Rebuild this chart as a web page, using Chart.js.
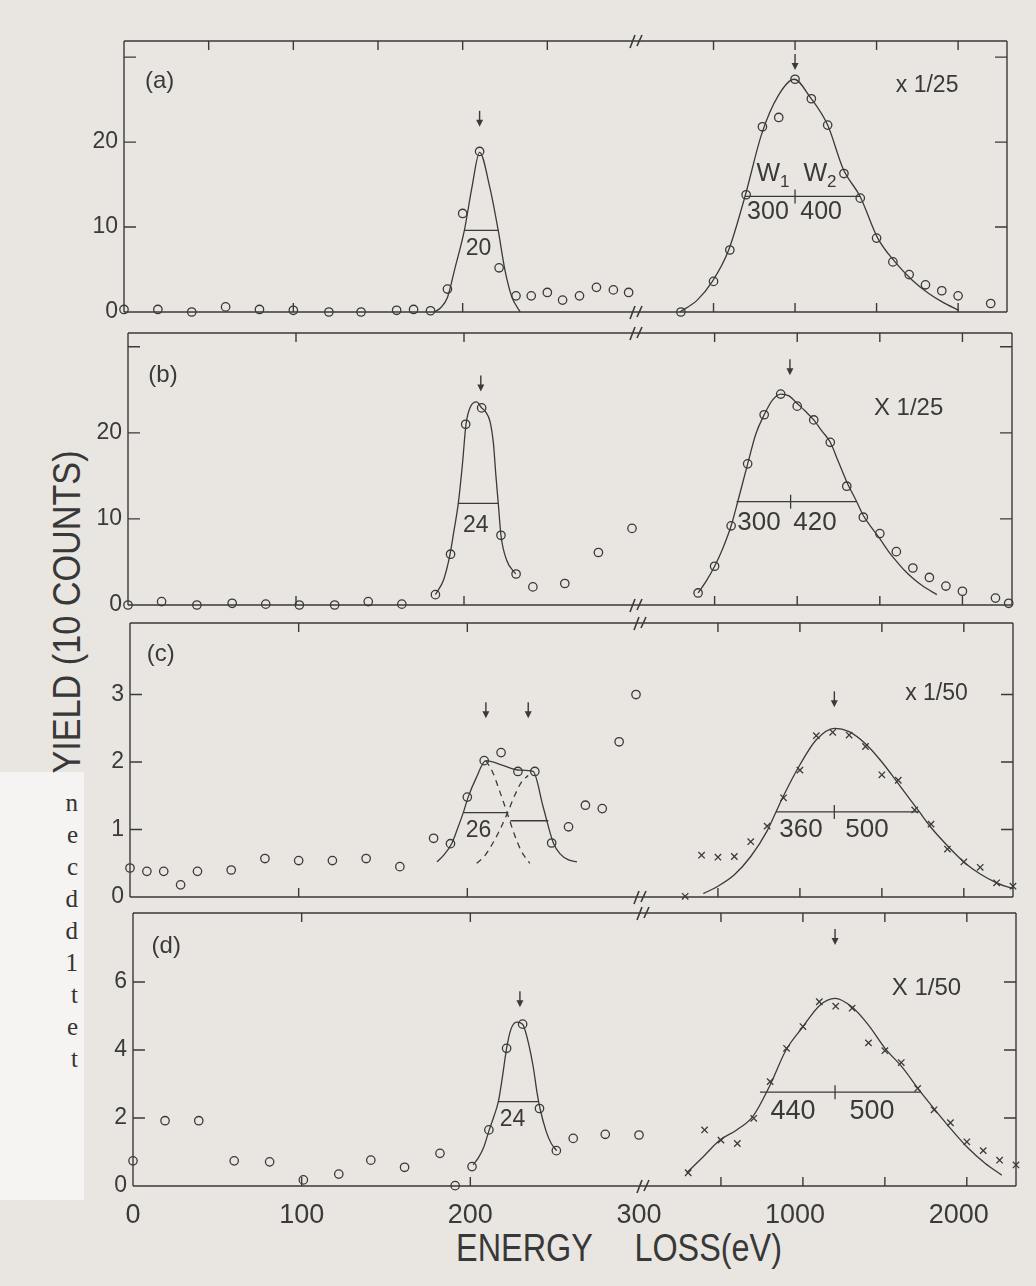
<!DOCTYPE html>
<html lang="en">
<head>
<meta charset="utf-8">
<title>Energy loss spectra (a)-(d)</title>
<script src="https://cdn.jsdelivr.net/npm/chart.js@4.4.1/dist/chart.umd.min.js"></script>
<style>
  html, body { margin:0; padding:0; }
  body { width:1036px; height:1286px; position:relative; overflow:hidden; background:#e9e6e2;
         font-family:"Liberation Sans", Arial, sans-serif; color:#383838; }
  canvas { position:absolute; }
  .ytitle { position:absolute; left:67px; top:612px; font-size:38px; line-height:1; white-space:nowrap;
            transform: translate(-50%,-50%) rotate(-90deg) scaleX(0.9); }
  .xtitle { position:absolute; left:619px; top:1228px; font-size:39px; line-height:39px; white-space:pre;
            transform: translateX(-50%) scaleX(0.83); word-spacing:40px; }
  .scrap { position:absolute; left:0; top:772px; width:84px; height:428px; background:#f5f4f2; }
  .scrap div { position:absolute; right:6px; top:15px; font-family:"Liberation Serif", serif; font-size:25px;
               line-height:32px; text-align:right; color:#333; }
</style>
</head>
<body>
<div class="scrap"><div>n<br>e<br>c<br>d<br>d<br>1<br>t<br>e<br>t</div></div>
<div class="ytitle">YIELD (10 COUNTS)</div>
<div class="xtitle">ENERGY LOSS(eV)</div>
<script>
// ---------------- data (energy loss in eV, yield) ----------------
// panel (a)
const aLeftE = [0,20,40,60,80,100,121,140,161,171,181,191,200,210,221.5,231.5,240.5,250,259,269,279,289,298];
const aLeftY = [0.3,0.3,0.0,0.6,0.3,0.2,0.0,0.0,0.2,0.3,0.15,2.7,11.6,18.9,5.2,1.9,1.9,2.3,1.4,1.9,2.9,2.6,2.3];
const aLeftFitE = [183,187,191,195.5,201,205.5,210,216,221,225,229,234];
const aLeftFitY = [0,0.5,1.7,5.2,9.6,14.7,18.8,14.7,9.6,4.9,1.8,0];
const aRightE = [300,500,600,700,800,900,1000,1100,1200,1300,1400,1500,1600,1700,1800,1900,2000,2200];
const aRightY = [0,3.6,7.3,13.8,21.8,22.9,27.4,25.1,22.0,16.3,13.4,8.7,5.9,4.4,3.2,2.5,1.9,1.0];
const aRightFitE = [294,400,493,593,693,796,898,995,1092,1200,1296,1399,1507,1613,1716,1818,1910,2005];
const aRightFitY = [0,1.4,3.6,7.3,13.6,21.0,25.5,27.4,25.3,22.0,16.8,13.6,8.7,5.9,3.8,2.2,1.1,0.2];
const aHalfLeft = [201,221,9.6];
const aHalfRight = [695,1400,13.6,1000];
const aWidthLabels = ['20','300','400'];

// panel (b)
const bLeftE = [0,20,41,62,82,102,123,143,163,183,192,201,210.5,222,231,241,260,280,300];
const bLeftY = [0,0.4,0,0.2,0.1,0,0,0.4,0.1,1.2,5.9,21.0,22.9,8.1,3.6,2.1,2.5,6.1,8.9];
const bLeftFitE = [183,188,191.7,194,196.6,199,201.2,204,207.5,210.5,213,215.5,217.5,219,220.4,222,225.4,230.8];
const bLeftFitY = [1.2,3.0,5.9,8.6,11.8,16.2,21.0,23.1,23.6,22.9,22.4,21.3,18.8,15.0,11.8,8.1,5.2,3.6];
const bRightE = [400,500,600,700,800,900,1000,1100,1200,1300,1400,1500,1600,1700,1800,1900,2000,2200,2280];
const bRightY = [1.4,4.5,9.2,16.4,22.1,24.5,23.1,21.5,18.9,13.8,10.2,8.3,6.2,4.3,3.2,2.2,1.6,0.8,0.2];
const bRightFitE = [400,450,500,550,600,640,700,750,800,850,900,950,1000,1050,1100,1150,1200,1250,1300,1360,1400,1450,1500,1550,1600,1650,1700,1760,1845];
const bRightFitY = [1.4,2.8,4.5,6.6,9.2,12.0,16.4,19.9,22.1,23.8,24.5,24.3,23.4,22.5,21.5,20.2,18.9,16.6,14.3,12.0,10.4,9.0,7.7,6.3,5.1,4.0,3.1,2.2,1.2];
const bHalfLeft = [196.6,220.4,11.8];
const bHalfRight = [633,1358,12.0,960];
const bWidthLabels = ['24','300','420'];

// panel (c)
const cLeftE = [0,10,20,30,40,60,80,100,120,140,160,180,190,200,210,220,230,240,250,260,270,280,290,300];
const cLeftY = [0.43,0.38,0.38,0.18,0.38,0.4,0.57,0.54,0.54,0.57,0.45,0.87,0.79,1.48,2.02,2.14,1.86,1.86,0.8,1.04,1.36,1.31,2.3,3.0];
const cLeftFitE = [182,186,190.7,194,197.6,200.5,205,211,221,231,239,245,251,255,260,265];
const cLeftFitY = [0.52,0.62,0.79,1.0,1.25,1.48,1.75,2.02,1.95,1.88,1.86,1.33,0.8,0.64,0.55,0.52];
const cPeak1E = [211,215,219,223.7,228,232,237];
const cPeak1Y = [2.02,1.85,1.58,1.24,0.92,0.68,0.5];
const cPeak2E = [205.5,210,214,219,223.7,228,232,236.1];
const cPeak2Y = [0.5,0.6,0.75,0.98,1.24,1.5,1.7,1.8];
const cRightE = [300,400,500,600,700,800,900,1000,1100,1200,1300,1400,1500,1600,1700,1800,1900,2000,2100,2200,2300];
const cRightY = [0.01,0.62,0.59,0.6,0.82,1.05,1.47,1.88,2.39,2.44,2.4,2.23,1.81,1.73,1.29,1.08,0.71,0.52,0.44,0.21,0.16];
const cRightFitE = [411,500,600,700,800,854,900,1000,1100,1210,1300,1400,1500,1600,1729,1800,1900,2000,2100,2200,2300];
const cRightFitY = [0.05,0.16,0.33,0.6,0.98,1.26,1.5,1.96,2.33,2.5,2.45,2.27,2.0,1.68,1.26,1.03,0.76,0.52,0.34,0.21,0.12];
const cHalfLeft1 = [198,224,1.25];
const cHalfLeft2 = [225.5,248,1.13];
const cHalfRight = [854,1729,1.26,1210];
const cWidthLabels = ['26','360','500'];

// panel (d)
const dLeftE = [0,19,39,60,81,101,122,141,161,182,191,201,211,221.5,231,241,251,261,280,300];
const dLeftY = [0.74,1.92,1.92,0.74,0.71,0.18,0.35,0.76,0.55,0.96,0.01,0.57,1.65,4.05,4.76,2.28,1.04,1.4,1.52,1.5];
const dLeftFitE = [201.7,205,208,211.2,214,216.6,219,221.5,224,227.4,231,234,237.3,239.7,241.3,245,248,251.2];
const dLeftFitY = [0.62,0.85,1.15,1.65,2.05,2.48,3.2,4.05,4.6,4.82,4.76,4.3,3.5,2.7,2.28,1.6,1.25,1.04];
const dRightE = [300,400,500,600,700,800,900,1000,1100,1200,1300,1400,1500,1600,1700,1800,1900,2000,2100,2200,2300];
const dRightY = [0.39,1.65,1.35,1.25,1.99,3.07,4.05,4.69,5.42,5.29,5.23,4.21,3.98,3.63,2.87,2.24,1.86,1.3,1.04,0.76,0.62];
const dRightFitE = [291,392,494,596,694,795,897,993,1104,1196,1298,1399,1501,1603,1719,1806,1908,2009,2111,2213];
const dRightFitY = [0.39,0.86,1.35,1.65,2.04,2.92,4.0,4.64,5.32,5.52,5.27,4.74,4.05,3.51,2.76,2.24,1.65,1.11,0.67,0.32];
const dHalfLeft = [216.6,240.3,2.48];
const dHalfRight = [738,1719,2.76,1196];
const dWidthLabels = ['24','440','500'];

// axis ticks / labels
const leftTickLabels = [0,100,200,300];
const rightTickLabels = [1000,2000];
const leftMinorTicksA = [50,100,150,200,250];
const leftTicks = [100,200];
const rightTicks = [500,1000,1500,2000];
const yLabelsAB = [0,10,20];
const yTicksAB = [10,20,30];
const yLabelsC = [0,1,2,3];
const yTicksC = [1,2,3];
const yLabelsD = [0,2,4,6];
const yTicksD = [2,4,6];
const scaleNotes = ['x 1/25','X 1/25','x 1/50','X 1/50'];
const panelNames = ['(a)','(b)','(c)','(d)'];

// ---------------- drawing ----------------
const INK = '#3a3a3a';
const FONT = '"Liberation Sans", Arial, sans-serif';
const PT = 30, XH = 60, PL = 40, PR = 40;

function pts(xs, ys) { return xs.map((x, i) => ({ x: x, y: ys[i] })); }
function circles(xs, ys) {
  return { data: pts(xs, ys), showLine: false, pointStyle: 'circle', pointRadius: 4.2, pointBorderWidth: 1.3,
           pointBorderColor: INK, pointBackgroundColor: 'rgba(0,0,0,0)', borderColor: INK, clip: false };
}
function crosses(xs, ys) {
  return { data: pts(xs, ys), showLine: false, pointStyle: 'crossRot', pointRadius: 4.5, pointBorderWidth: 1.3,
           pointBorderColor: INK, borderColor: INK, clip: false };
}
function fitLine(xs, ys, dash) {
  return { data: pts(xs, ys), pointRadius: 0, borderColor: INK, borderWidth: 1.3,
           cubicInterpolationMode: 'monotone', borderDash: dash || [], fill: false, clip: false };
}
function hseg(h) {
  return { data: [{ x: h[0], y: h[2] }, { x: h[1], y: h[2] }], pointRadius: 0, borderColor: INK, borderWidth: 1.3 };
}
function vtick(h, dy) {
  return { data: [{ x: h[3], y: h[2] - dy }, { x: h[3], y: h[2] + dy }], pointRadius: 0, borderColor: INK, borderWidth: 1.3 };
}

function framePlugin(cfg) {
  return {
    id: 'frame',
    afterDraw(chart) {
      const ctx = chart.ctx, ca = chart.chartArea, xs = chart.scales.x, ys = chart.scales.y;
      ctx.save();
      ctx.strokeStyle = INK; ctx.fillStyle = INK; ctx.lineWidth = 1.4;
      ctx.beginPath();
      ctx.moveTo(ca.left, ca.top); ctx.lineTo(ca.right, ca.top);
      ctx.moveTo(ca.left, ca.bottom); ctx.lineTo(ca.right, ca.bottom);
      const sx = cfg.side === 'left' ? ca.left : ca.right;
      const dir = cfg.side === 'left' ? 1 : -1;
      ctx.moveTo(sx, ca.top); ctx.lineTo(sx, ca.bottom);
      cfg.yTicks.forEach(v => { const py = ys.getPixelForValue(v); ctx.moveTo(sx, py); ctx.lineTo(sx + dir * 12, py); });
      cfg.topTicks.forEach(v => { const px = xs.getPixelForValue(v); ctx.moveTo(px, ca.top); ctx.lineTo(px, ca.top + 9); });
      cfg.bottomTicks.forEach(v => { const px = xs.getPixelForValue(v); ctx.moveTo(px, ca.bottom); ctx.lineTo(px, ca.bottom - 9); });
      ctx.stroke();
      if (cfg.breakMark) {
        ctx.lineWidth = 1.6;
        [ca.top, ca.bottom].forEach(y => {
          ctx.beginPath();
          ctx.moveTo(ca.right - 2, y + 7); ctx.lineTo(ca.right + 3, y - 6);
          ctx.moveTo(ca.right + 5, y + 5); ctx.lineTo(ca.right + 10, y - 6);
          ctx.stroke();
        });
        ctx.lineWidth = 1.4;
      }
      (cfg.arrows || []).forEach(a => {
        const px = xs.getPixelForValue(a[0]), py = ys.getPixelForValue(a[1]);
        ctx.beginPath(); ctx.moveTo(px, py - 16); ctx.lineTo(px, py - 5); ctx.stroke();
        ctx.beginPath(); ctx.moveTo(px - 3.5, py - 7); ctx.lineTo(px + 3.5, py - 7); ctx.lineTo(px, py); ctx.closePath(); ctx.fill();
      });
      (cfg.texts || []).forEach(t => {
        const px = xs.getPixelForValue(t.x), py = ys.getPixelForValue(t.y);
        ctx.textBaseline = 'middle';
        if (t.sub) {
          ctx.font = t.size + 'px ' + FONT; const w1 = ctx.measureText(t.t).width;
          const ss = Math.round(t.size * 0.68);
          ctx.font = ss + 'px ' + FONT; const w2 = ctx.measureText(t.sub).width;
          const x0 = px - (w1 + w2) / 2;
          ctx.textAlign = 'left';
          ctx.font = t.size + 'px ' + FONT; ctx.fillText(t.t, x0, py);
          ctx.font = ss + 'px ' + FONT; ctx.fillText(t.sub, x0 + w1, py + t.size * 0.32);
        } else {
          ctx.font = t.size + 'px ' + FONT;
          ctx.textAlign = t.align || 'center';
          ctx.fillText(t.t, px, py);
        }
      });
      ctx.restore();
    }
  };
}

function makeChart(g, side, datasets, cfg) {
  const c = document.createElement('canvas');
  const left = side === 'left' ? 0 : g.B - PL;
  const width = side === 'left' ? g.B + PR : g.R - g.B + PL + PR;
  const top = g.T - PT, height = g.Bo - g.T + PT + XH;
  c.width = width; c.height = height;
  c.style.left = left + 'px'; c.style.top = top + 'px';
  c.style.width = width + 'px'; c.style.height = height + 'px';
  document.body.appendChild(c);
  const xLabels = side === 'left' ? leftTickLabels : rightTickLabels;
  new Chart(c, {
    type: 'line',
    data: { datasets: datasets },
    options: {
      responsive: false, animation: false, devicePixelRatio: 1, events: [],
      layout: { padding: side === 'left' ? { top: PT, right: PR, left: 0, bottom: 0 } : { top: PT, right: PR, left: PL, bottom: 0 } },
      plugins: { legend: { display: false }, tooltip: { enabled: false } },
      scales: {
        x: {
          type: 'linear', min: 0, max: side === 'left' ? 300 : 2300,
          grid: { display: false, drawTicks: false }, border: { display: false },
          afterBuildTicks: s => { s.ticks = xLabels.map(v => ({ value: v })); },
          afterFit: s => { s.height = XH; },
          ticks: { display: !!g.xLabels, autoSkip: false, maxRotation: 0, padding: 13, color: INK,
                   labelOffset: side === 'left' ? 0 : -8,
                   font: { family: FONT, size: 27 }, callback: v => String(v) }
        },
        y: side === 'left' ? {
          min: 0, max: g.ymax,
          grid: { display: false, drawTicks: false }, border: { display: false },
          afterBuildTicks: s => { s.ticks = g.yLabels.map(v => ({ value: v })); },
          afterFit: s => { s.width = g.L; },
          ticks: { padding: 6, color: INK, font: { family: FONT, size: 23 }, callback: v => String(v) }
        } : { display: false, min: 0, max: g.ymax }
      }
    },
    plugins: [framePlugin(cfg)]
  });
}

const geoms = [
  { L: 124, B: 632, R: 1007, T: 41,  Bo: 312,  ymax: 31.9, yLabels: yLabelsAB, yTicks: yTicksAB },
  { L: 128, B: 632, R: 1012, T: 333, Bo: 605,  ymax: 31.6, yLabels: yLabelsAB, yTicks: yTicksAB },
  { L: 130, B: 636, R: 1013, T: 623, Bo: 897,  ymax: 4.06, yLabels: yLabelsC,  yTicks: yTicksC },
  { L: 133, B: 639, R: 1016, T: 913, Bo: 1186, ymax: 8.03, yLabels: yLabelsD,  yTicks: yTicksD, xLabels: true }
];

// (a)
makeChart(geoms[0], 'left',
  [circles(aLeftE, aLeftY), fitLine(aLeftFitE, aLeftFitY), hseg(aHalfLeft)],
  { side: 'left', yTicks: yTicksAB, topTicks: leftMinorTicksA, bottomTicks: leftTicks, breakMark: true,
    arrows: [[210, 21.8]],
    texts: [{ t: panelNames[0], x: 12.4, y: 27.2, size: 24, align: 'left' },
            { t: aWidthLabels[0], x: 209.4, y: 7.5, size: 23 }] });
makeChart(geoms[0], 'right',
  [circles(aRightE, aRightY), fitLine(aRightFitE, aRightFitY), hseg(aHalfRight), vtick(aHalfRight, 0.82)],
  { side: 'right', yTicks: yTicksAB, topTicks: rightTicks, bottomTicks: rightTicks,
    arrows: [[1000, 28.5]],
    texts: [{ t: scaleNotes[0], x: 1810, y: 26.6, size: 23 },
            { t: 'W', sub: '1', x: 865, y: 16.2, size: 25 },
            { t: 'W', sub: '2', x: 1153, y: 16.2, size: 25 },
            { t: aWidthLabels[1], x: 834, y: 11.8, size: 25 },
            { t: aWidthLabels[2], x: 1160, y: 11.8, size: 25 }] });

// (b)
makeChart(geoms[1], 'left',
  [circles(bLeftE, bLeftY), fitLine(bLeftFitE, bLeftFitY), hseg(bHalfLeft)],
  { side: 'left', yTicks: yTicksAB, topTicks: leftTicks, bottomTicks: leftTicks, breakMark: true,
    arrows: [[210, 24.8]],
    texts: [{ t: panelNames[1], x: 12.1, y: 26.7, size: 24, align: 'left' },
            { t: bWidthLabels[0], x: 207, y: 9.2, size: 23 }] });
makeChart(geoms[1], 'right',
  [circles(bRightE, bRightY), fitLine(bRightFitE, bRightFitY), hseg(bHalfRight), vtick(bHalfRight, 0.81)],
  { side: 'right', yTicks: yTicksAB, topTicks: rightTicks, bottomTicks: rightTicks,
    arrows: [[956, 26.7]],
    texts: [{ t: scaleNotes[1], x: 1674, y: 22.9, size: 24 },
            { t: bWidthLabels[1], x: 769, y: 9.5, size: 26 },
            { t: bWidthLabels[2], x: 1108, y: 9.5, size: 26 }] });

// (c)
makeChart(geoms[2], 'left',
  [circles(cLeftE, cLeftY), fitLine(cLeftFitE, cLeftFitY), fitLine(cPeak1E, cPeak1Y, [6, 5]),
   fitLine(cPeak2E, cPeak2Y, [6, 5]), hseg(cHalfLeft1), hseg(cHalfLeft2)],
  { side: 'left', yTicks: yTicksC, topTicks: leftTicks, bottomTicks: leftTicks, breakMark: true,
    arrows: [[211, 2.65], [236.1, 2.65]],
    texts: [{ t: panelNames[2], x: 9.9, y: 3.6, size: 24, align: 'left' },
            { t: cWidthLabels[0], x: 206.6, y: 0.98, size: 23 }] });
makeChart(geoms[2], 'right',
  [crosses(cRightE, cRightY), fitLine(cRightFitE, cRightFitY), hseg(cHalfRight), vtick(cHalfRight, 0.104)],
  { side: 'right', yTicks: yTicksC, topTicks: rightTicks, bottomTicks: rightTicks,
    arrows: [[1210, 2.81]],
    texts: [{ t: scaleNotes[2], x: 1833, y: 3.01, size: 23 },
            { t: cWidthLabels[1], x: 1007, y: 0.99, size: 26 },
            { t: cWidthLabels[2], x: 1409, y: 0.99, size: 26 }] });

// (d)
makeChart(geoms[3], 'left',
  [circles(dLeftE, dLeftY), fitLine(dLeftFitE, dLeftFitY), hseg(dHalfLeft)],
  { side: 'left', yTicks: yTicksD, topTicks: leftTicks, bottomTicks: leftTicks, breakMark: true,
    arrows: [[229.4, 5.26]],
    texts: [{ t: panelNames[3], x: 11, y: 7.04, size: 24, align: 'left' },
            { t: dWidthLabels[0], x: 225, y: 1.94, size: 23 }] });
makeChart(geoms[3], 'right',
  [crosses(dRightE, dRightY), fitLine(dRightFitE, dRightFitY), hseg(dHalfRight), vtick(dHalfRight, 0.206)],
  { side: 'right', yTicks: yTicksD, topTicks: rightTicks, bottomTicks: rightTicks,
    arrows: [[1196, 7.09]],
    texts: [{ t: scaleNotes[3], x: 1754, y: 5.81, size: 24 },
            { t: dWidthLabels[1], x: 940, y: 2.18, size: 27 },
            { t: dWidthLabels[2], x: 1422, y: 2.18, size: 27 }] });
</script>
</body>
</html>
